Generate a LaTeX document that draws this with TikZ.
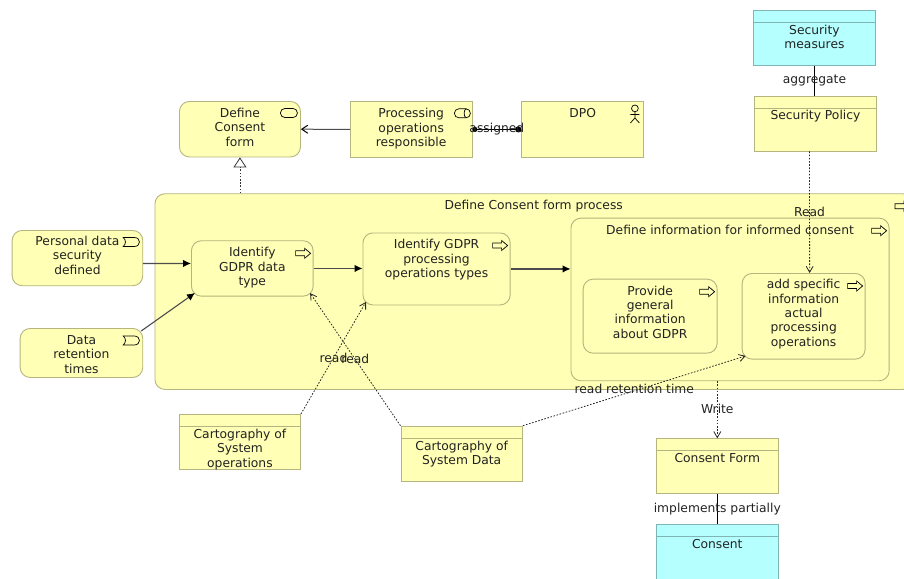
\documentclass[tikz,border=0pt]{standalone}
\usepackage{fontspec}
\setmainfont{DejaVu Sans}
\usetikzlibrary{arrows.meta}
\definecolor{elemfill}{HTML}{FFFFB5}
\definecolor{elemline}{HTML}{B5B57F}
\definecolor{techfill}{HTML}{B5FFFF}
\definecolor{techline}{HTML}{7FB5B5}
\definecolor{inkcol}{HTML}{222222}
\newcommand{\elemtxt}[4][6]{\parbox[c][#3pt][t]{#2pt}{\vspace*{#1pt}\centering\strut #4}}
\tikzset{
    elem/.style={draw=elemline, fill=elemfill, line width=.9pt, inner sep=0pt, anchor=north west, text=inkcol,
        font=\fontsize{12.3}{14.3}\selectfont},
    roundelem/.style={elem, rounded corners=10pt},
    header/.style={path picture={\draw[#1, line width=.9pt] ([yshift=-12pt]path picture bounding box.north west) -- ([yshift=-12pt]path picture bounding box.north east);}},
    dataelem/.style={elem, header=elemline},
    techelem/.style={elem, draw=techline, fill=techfill, header=techline},
    conlabel/.style={text=inkcol, inner sep=0pt, font=\fontsize{12.3}{14.3}\selectfont},
    flow/.style={draw=black!70, line width=1.1pt, -{Latex[black, length=8pt, width=7.5pt]}},
    access/.style={draw=black!85, line width=.8pt, dash pattern=on 1.6pt off 1.6pt, -{Straight Barb[length=6pt,width=7pt]}},
    icon/.style={draw=black, line width=.7pt, fill=none},
    procicon/.pic={\draw[icon] (0,-2.5) -- (9,-2.5) -- (9,-5) -- (15,0) -- (9,5) -- (9,2.5) -- (0,2.5) -- cycle;},
    serviceicon/.pic={\draw[icon, rounded corners=4.4pt] (0,-4.5) rectangle (17,4.5);},
    roleicon/.pic={\draw[icon, rounded corners=4.4pt] (0,-4.5) rectangle (16,4.5);
        \draw[icon] (12,-4.5) .. controls (9,-4.5) and (9,4.5) .. (12,4.5);},
    eventicon/.pic={\draw[icon] (0,-4.5) -- (11,-4.5) .. controls (18,-4.5) and (18,4.5) .. (11,4.5) -- (0,4.5) .. controls (3,2) and (3,-2) .. (0,-4.5) -- cycle;},
    actoricon/.pic={\draw[icon] (0,3.4) circle (3.4);
        \draw[icon] (0,6.8) -- (0,13) (-4.5,9.5) -- (4.5,9.5) (-4.5,18) -- (0,13) -- (4.5,18);},
}
\begin{document}
\begin{tikzpicture}[x=1pt,y=-1pt]
    \clip (0,0) rectangle (904,578);

    \node[techelem] (measures) at (753,10) {\elemtxt[14]{122}{55}{Security\\measures}};
    \node[dataelem] (policy) at (754,95.5) {\elemtxt[14]{122}{55}{Security Policy}};
    \node[roundelem] (define) at (179,101) {\elemtxt{121}{55.5}{Define\\Consent\\form}};
    \node[elem] (responsible) at (350,101.3) {\elemtxt{121.5}{55.3}{Processing\\operations\\responsible}};
    \node[elem] (dpo) at (521.3,101.3) {\elemtxt{122}{55.3}{DPO}};

    \node[roundelem] (process) at (154.5,193.3) {\elemtxt{757.5}{195.7}{Define Consent form process}};
    \node[roundelem] (personal) at (11.7,230) {\elemtxt[5]{130.6}{55.3}{Personal data\\security\\defined}};
    \node[roundelem] (retention) at (19.7,328) {\elemtxt{122.6}{49}{Data\\retention\\times}};
    \node[roundelem] (identify) at (191,240.3) {\elemtxt{121.7}{55.4}{Identify\\GDPR data\\type}};
    \node[roundelem] (types) at (362.5,232.5) {\elemtxt{147.2}{72}{Identify GDPR\\processing\\operations types}};
    \node[roundelem] (info) at (570.5,217.7) {\elemtxt{318.2}{162.6}{Define information for informed consent}};
    \node[roundelem] (general) at (582.7,278.7) {\elemtxt{134}{74}{Provide\\general\\information\\about GDPR}};
    \node[roundelem] (specific) at (741.7,273) {\elemtxt[5.5]{123}{85.7}{add specific\\information\\actual\\processing\\operations}};

    \node[dataelem] (cartoops) at (179,414) {\elemtxt[14]{121}{55}{Cartography of\\System\\operations}};
    \node[dataelem] (cartodata) at (400.5,425.7) {\elemtxt[14]{121.5}{55.3}{Cartography of\\System Data}};
    \node[dataelem] (form) at (656,438.3) {\elemtxt[14]{121.7}{55}{Consent Form}};
    \node[techelem] (consent) at (656,524) {\elemtxt[14]{121.7}{55}{Consent}};

    % icons
    \pic at ([xshift=-20.5pt,yshift=-12pt]define.north east) {serviceicon};
    \pic at ([xshift=-18pt,yshift=-12pt]responsible.north east) {roleicon};
    \pic at ([xshift=-9.3pt,yshift=-3.7pt]dpo.north east) {actoricon};
    \pic at ([xshift=-20pt,yshift=-12pt]personal.north east) {eventicon};
    \pic at ([xshift=-20pt,yshift=-12.5pt]retention.north east) {eventicon};
    \pic at ([xshift=-18pt,yshift=-13pt]identify.north east) {procicon};
    \pic at ([xshift=-18pt,yshift=-13pt]types.north east) {procicon};
    \pic at ([xshift=-18pt,yshift=-13pt]process.north east) {procicon};
    \pic at ([xshift=-18pt,yshift=-13pt]info.north east) {procicon};
    \pic at ([xshift=-18pt,yshift=-13pt]general.north east) {procicon};
    \pic at ([xshift=-18pt,yshift=-13pt]specific.north east) {procicon};

    % connectors
    \draw[line width=.9pt] (measures.south) -- (measures.south |- policy.north) node[midway, conlabel] (aggregatelbl) {aggregate};
    \draw[black!70, line width=1pt, -{Straight Barb[black, length=6pt, width=8pt]}] (responsible.west) -- (define.east);
    \draw[black, line width=.9pt, {Circle[length=5pt]}-{Circle[length=6pt]}] (responsible.east) -- (dpo.west) node[midway, conlabel] (assignedlbl) {assigned};
    \draw[black!80, line width=.8pt, dash pattern=on 1.6pt off 1.6pt, -{Triangle[open, fill=white, length=10pt, width=13pt]}] (process.north -| define.south) -- (define.south);
    \draw[flow] ([yshift=-5.4pt]personal.east) -- ([yshift=5pt]identify.west);
    \draw[flow] ([xshift=-2pt,yshift=-3pt]retention.north east) -- ([xshift=4pt,yshift=3.7pt]identify.south west);
    \draw[flow] (identify.east) -- (identify.east -| types.west);
    \draw[flow] (types.east) -- (types.east -| info.west);
    \draw[access] (cartoops.north east) -- ([xshift=3.5pt,yshift=3.5pt]types.south west) node[midway, conlabel] (readopslbl) {read};
    \draw[access] (cartodata.north west) -- ([xshift=-3.5pt,yshift=3.5pt]identify.south east) node[midway, conlabel] (readdatalbl) {read};
    \draw[access] (cartodata.north east) -- ([xshift=4pt,yshift=3.7pt]specific.south west) node[midway, conlabel, yshift=1.5pt] (retentionlbl) {read retention time};
    \draw[access] ([xshift=-6pt]policy.south) -- ([xshift=6pt]specific.north) node[midway, conlabel, yshift=.7pt] (readlbl) {Read};
    \draw[access] (info.south -| form.north) -- (form.north) node[midway, conlabel, yshift=1pt] (writelbl) {Write};
    \draw[line width=.9pt] (form.south) -- (consent.north) node[midway, conlabel] (implementslbl) {implements partially};
\end{tikzpicture}
\end{document}
